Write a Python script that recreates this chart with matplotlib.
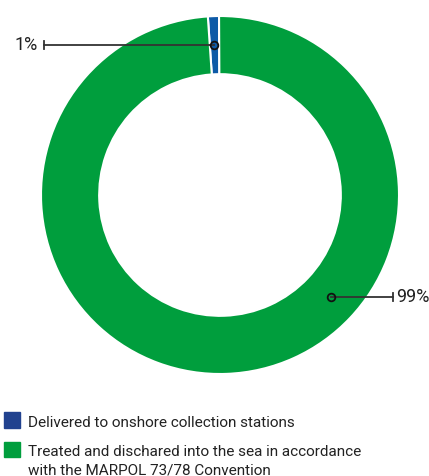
import matplotlib.pyplot as plt
import numpy as np

labels = ['Delivered to onshore collection stations',
          'Treated and dischared into the sea in accordance\nwith the MARPOL 73/78 Convention']
values = [1, 99]
pct_text = ['1%', '99%']
colors = ['#0d5aa7', '#009e3d']
legend_colors = ['#21428f', '#009e3d']

plt.rcParams['font.family'] = ['Roboto', 'DejaVu Sans']

W, H = 429, 476
fig = plt.figure(figsize=(W / 100, H / 100), dpi=100)

# donut centred at (220, 195) px, outer radius 179 px
cx, cy, R = 220, 195, 179
ax = fig.add_axes([(cx - R) / W, (H - cy - R) / H, 2 * R / W, 2 * R / H])
ax.pie(values, colors=colors, startangle=93.9, counterclock=False, radius=1,
       wedgeprops=dict(width=0.325, edgecolor='white', linewidth=1.5))
ax.set_xlim(-1, 1)
ax.set_ylim(-1, 1)
ax.set_aspect('auto')
ax.axis('off')

# leader lines: dot position, line end x, text side
leaders = [((-0.034, 0.838), -0.983, 'left'), ((0.62, -0.57), 0.966, 'right')]
for ((x0, y0), xend, side), txt in zip(leaders, pct_text):
    ax.plot([x0, xend], [y0, y0], color='#333333', lw=1.3, clip_on=False)
    ax.plot([xend, xend], [y0 - 0.022, y0 + 0.022], color='#333333', lw=1.3, clip_on=False)
    ax.plot(x0, y0, 'o', ms=5.5, mfc='none', mec='#111111', mew=1.3, clip_on=False)
    if side == 'left':
        ax.text(xend - 0.035, y0, txt, ha='right', va='center', fontsize=13, color='#222222')
    else:
        ax.text(xend + 0.02, y0, txt, ha='left', va='center', fontsize=13, color='#222222')

# legend
square_y = [420, 449.5]
baselines = [427, 456]
for lab, col, sy, by in zip(labels, legend_colors, square_y, baselines):
    fig.patches.append(plt.Rectangle((4 / W, (H - sy - 7.5) / H), 15.5 / W, 15.5 / H,
                                     transform=fig.transFigure, color=col))
    for i, line in enumerate(lab.split('\n')):
        fig.text(28 / W, (H - by - 18.5 * i) / H, line, ha='left', va='baseline',
                 fontsize=11, color='#222222')

plt.savefig('out.png', dpi=100)
